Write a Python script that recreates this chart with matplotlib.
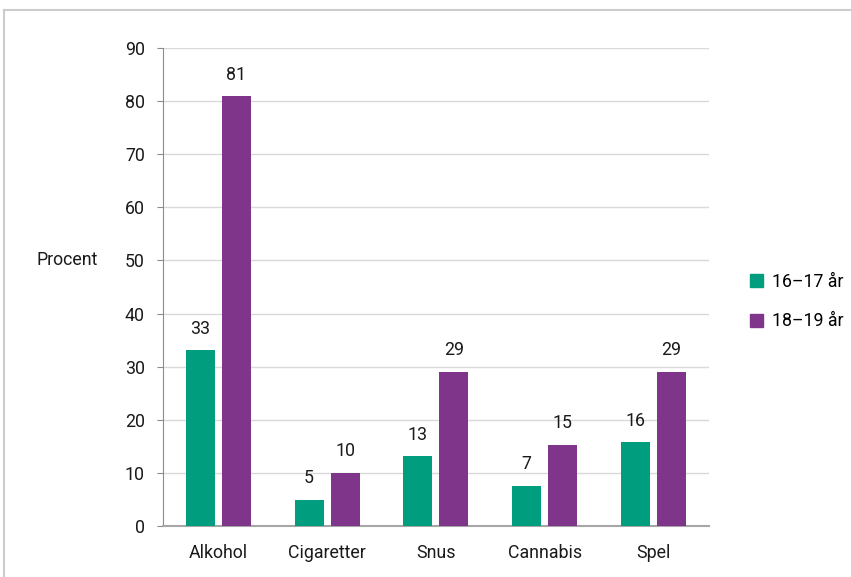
import matplotlib.pyplot as plt
import numpy as np
from matplotlib.patches import Patch

plt.rcParams['font.family'] = ['Roboto', 'DejaVu Sans']

categories = ['Alkohol', 'Cigaretter', 'Snus', 'Cannabis', 'Spel']
young = [33.1, 4.9, 13.1, 7.6, 15.8]
old = [80.9, 10.0, 29.0, 15.3, 29.0]
young_labels = [33, 5, 13, 7, 16]
old_labels = [81, 10, 29, 15, 29]
series_names = ['16–17 år', '18–19 år']

green = '#009e7f'
purple = '#7f368a'
fs = 12.8

fig = plt.figure(figsize=(8.51, 5.77), dpi=100)
ax = fig.add_axes([0.1915, 0.0884, 0.6415, 0.8284])

x = np.arange(len(categories))
w = 0.267
off = 0.166
b1 = ax.bar(x - off, young, w, color=green, zorder=3)
b2 = ax.bar(x + off, old, w, color=purple, zorder=3)

for bars, labs in [(b1, young_labels), (b2, old_labels)]:
    for b, lab in zip(bars, labs):
        ax.annotate(str(lab), (b.get_x() + b.get_width() / 2, b.get_height()),
                    xytext=(0, 9), textcoords='offset points',
                    ha='center', va='bottom', fontsize=fs, color='#1a1a1a')

ax.set_xlim(-0.51, 4.51)
ax.set_ylim(0, 90)
ax.set_yticks(range(0, 91, 10))
ax.set_xticks(x)
ax.set_xticklabels(categories)
ax.grid(axis='y', color='#d9d9d9', linewidth=1, zorder=0)
for s in ['top', 'right']:
    ax.spines[s].set_visible(False)
ax.spines['left'].set_color('#8c8c8c')
ax.spines['bottom'].set_color('#a6a6a6')
ax.spines['bottom'].set_linewidth(1.5)
ax.tick_params(axis='y', length=4, color='#8c8c8c', labelsize=fs, pad=9, labelcolor='#1a1a1a')
ax.tick_params(axis='x', length=0, labelsize=fs, pad=13, labelcolor='#1a1a1a')

ax.text(-0.12, 50, 'Procent', transform=ax.get_yaxis_transform(),
        ha='right', va='center', fontsize=fs, color='#1a1a1a')

handles = [Patch(color=green), Patch(color=purple)]
fig.legend(handles, series_names, loc='center left', bbox_to_anchor=(0.862, 0.477),
           frameon=False, fontsize=fs, handlelength=0.75, handleheight=0.75,
           handletextpad=0.5, labelspacing=1.2)

# light frame around the figure (top and left edges visible)
fig.add_artist(plt.Line2D([0.005, 1], [0.983, 0.983], color='#cccccc', linewidth=1.5,
                          transform=fig.transFigure))
fig.add_artist(plt.Line2D([0.005, 0.005], [0, 0.983], color='#cccccc', linewidth=1.5,
                          transform=fig.transFigure))

fig.savefig('out.png', dpi=100)
